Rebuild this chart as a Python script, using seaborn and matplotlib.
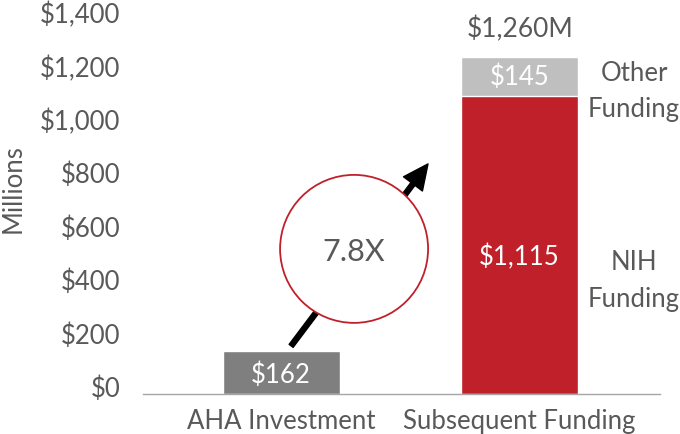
import matplotlib
matplotlib.use("Agg")
import matplotlib.pyplot as plt
import matplotlib.transforms as mtransforms
from matplotlib.patches import Circle
import pandas as pd
import seaborn as sns

sns.set_theme(style="white")
plt.rcParams["font.family"] = ["Lato", "DejaVu Sans"]

# --- data ---------------------------------------------------------------------
categories   = ["AHA Investment", "Subsequent Funding"]
base_values  = [162, 1115]          # AHA investment, NIH funding
top_values   = [0, 145]             # other funding stacked on top
segment_names = ["", "NIH\nFunding"]
top_names     = ["", "Other\nFunding"]
multiplier   = "7.8X"
total_label  = "$1,260M"
y_ticks      = [0, 200, 400, 600, 800, 1000, 1200, 1400]

totals = [b + t for b, t in zip(base_values, top_values)]

TEXT   = "#595959"
RED    = "#C0202A"
DGRAY  = "#7F7F7F"
LGRAY  = "#BFBFBF"
FS     = 18.5

df_top  = pd.DataFrame({"category": categories, "value": totals})
df_base = pd.DataFrame({"category": categories, "value": base_values})

fig = plt.figure(figsize=(6.8, 4.35), dpi=100)
ax = fig.add_axes([0.210, 0.092, 0.761, 0.860])

# top layer (totals) then base layer drawn over it
sns.barplot(data=df_top, x="category", y="value", hue="category", order=categories,
            palette=[DGRAY, LGRAY], width=0.49, dodge=False, saturation=1,
            errorbar=None, legend=False, ax=ax)
sns.barplot(data=df_base, x="category", y="value", hue="category", order=categories,
            palette=[DGRAY, RED], width=0.49, dodge=False, saturation=1,
            errorbar=None, legend=False, ax=ax)

ax.set_xlim(-0.58, 1.59)
ax.set_ylim(0, 1400)
ax.set_yticks(y_ticks)
ax.set_yticklabels([f"${v:,}" for v in y_ticks])
ax.set_xlabel("")
ax.set_ylabel("Millions", fontsize=FS, color=TEXT)
ax.yaxis.set_label_coords(-0.226, 0.551)
ax.tick_params(axis="y", length=0, pad=16, labelsize=FS, labelcolor=TEXT)
ax.tick_params(axis="x", length=0, pad=10, labelsize=FS, labelcolor=TEXT)

# Excel-style tick labels sit a little above the gridline position
shift = mtransforms.ScaledTranslation(0, 8 / 100, fig.dpi_scale_trans)
for lbl in ax.get_yticklabels():
    lbl.set_transform(lbl.get_transform() + shift)

for side in ["top", "right", "left"]:
    ax.spines[side].set_visible(False)
ax.spines["bottom"].set_color("#A6A6A6")
ax.spines["bottom"].set_linewidth(1)

# value labels inside the bars
for i, (b, t) in enumerate(zip(base_values, top_values)):
    dy = -42 if b > 500 else -8
    ax.text(i, b / 2 + dy, f"${b:,}", ha="center", va="center", color="white", fontsize=FS)
    if t:
        ax.text(i, b + t / 2, f"${t:,}", ha="center", va="center", color="white", fontsize=FS)
        ax.text(i, b + t + 107, total_label, ha="center", va="center", color=TEXT, fontsize=19)

# segment names to the right of the stacked bar
ax.text(1.48, 1135, top_names[1], ha="center", va="center", color=TEXT, fontsize=FS,
        linespacing=1.55)
ax.text(1.48, 425, segment_names[1], ha="center", va="center", color=TEXT, fontsize=FS,
        linespacing=1.6)

# growth arrow behind the multiplier circle
ax.annotate("", xy=(0.616, 861), xytext=(0.042, 180),
            arrowprops=dict(width=3.6, headwidth=17, headlength=18, color="black",
                            shrink=0),
            zorder=4)
circle_pos = mtransforms.ScaledTranslation(0.306, 543, ax.transData)
circle = Circle((0, 0), radius=0.74, transform=fig.dpi_scale_trans + circle_pos,
                facecolor="white", edgecolor=RED, lw=1.3, zorder=5)
ax.add_patch(circle)
ax.text(0.306, 536, multiplier, ha="center", va="center", color=TEXT, fontsize=22, zorder=6)

fig.savefig("out.png", dpi=100)
